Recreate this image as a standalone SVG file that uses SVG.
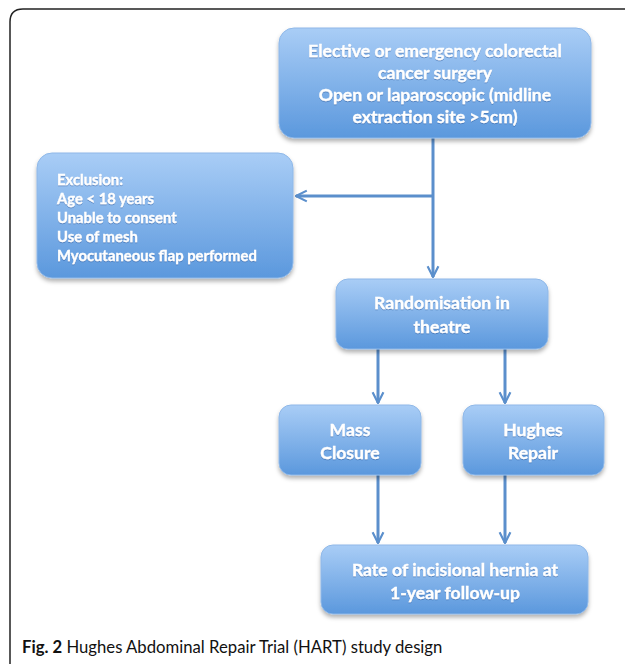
<svg xmlns="http://www.w3.org/2000/svg" width="625" height="666" viewBox="0 0 625 666">
<defs>
<linearGradient id="g" x1="0" y1="0" x2="0" y2="1">
<stop offset="0" stop-color="#a9cdf6"/>
<stop offset="1" stop-color="#5b98dd"/>
</linearGradient>
<filter id="sh" x="-10%" y="-10%" width="120%" height="130%">
<feDropShadow dx="0" dy="3" stdDeviation="2" flood-color="#000" flood-opacity="0.3"/>
</filter>
<filter id="ts" x="-5%" y="-20%" width="110%" height="140%">
<feDropShadow dx="0" dy="1" stdDeviation="0.6" flood-color="#2a5a9a" flood-opacity="0.5"/>
</filter>
<marker id="ah" viewBox="0 0 10 10" refX="9" refY="5" markerWidth="4.5" markerHeight="4.5" orient="auto" markerUnits="strokeWidth">
<path d="M1,1 L9,5 L1,9" fill="none" stroke="#5b8fcc" stroke-width="1.6"/>
</marker>
<style>
.box{fill:url(#g);stroke:#8fb8e8;stroke-width:1;filter:url(#sh)}
.t{font-family:"Lato","Open Sans","Liberation Sans",sans-serif;font-weight:bold;fill:#fff;stroke:#fff;stroke-width:0.35;filter:url(#ts)}
.c{font-size:17.6px;text-anchor:middle}
.l{font-size:14.8px}
.con{fill:none;stroke:#5b8fcc;stroke-width:3;marker-end:url(#ah)}
.cap{font-family:"Lato","Open Sans","Liberation Sans",sans-serif;font-size:16.7px;fill:#111}
</style>
</defs>
<rect width="625" height="666" fill="#fff"/>
<path d="M10,664 V22 Q10,9 23,9 H625" fill="none" stroke="#222" stroke-width="1.5"/>

<g id="connectors">
<line class="con" x1="433" y1="138" x2="433" y2="277"/>
<line class="con" x1="433" y1="196" x2="296" y2="196"/>
<line class="con" x1="378" y1="349" x2="378" y2="403"/>
<line class="con" x1="505" y1="349" x2="505" y2="403"/>
<line class="con" x1="378" y1="475" x2="378" y2="543"/>
<line class="con" x1="505" y1="475" x2="505" y2="543"/>
</g>

<g id="surgery">
<rect class="box" x="279" y="28" width="312" height="110" rx="15"/>
<text class="t c"><tspan x="435" y="57">Elective or emergency colorectal</tspan><tspan x="435" y="79">cancer surgery</tspan><tspan x="435" y="101">Open or laparoscopic (midline</tspan><tspan x="435" y="123">extraction site &gt;5cm)</tspan></text>
</g>

<g id="exclusion">
<rect class="box" x="37" y="153" width="256" height="125" rx="15"/>
<text class="t l"><tspan x="57" y="185">Exclusion:</tspan><tspan x="57" y="204">Age &lt; 18 years</tspan><tspan x="57" y="223">Unable to consent</tspan><tspan x="57" y="242">Use of mesh</tspan><tspan x="57" y="261">Myocutaneous flap performed</tspan></text>
</g>

<g id="randomisation">
<rect class="box" x="336" y="279" width="212" height="70" rx="12"/>
<text class="t c"><tspan x="442" y="309">Randomisation in</tspan><tspan x="442" y="333">theatre</tspan></text>
</g>

<g id="mass">
<rect class="box" x="279" y="405" width="142" height="70" rx="12"/>
<text class="t c"><tspan x="350" y="436">Mass</tspan><tspan x="350" y="459">Closure</tspan></text>
</g>

<g id="hughes">
<rect class="box" x="463" y="405" width="141" height="70" rx="12"/>
<text class="t c"><tspan x="533" y="436">Hughes</tspan><tspan x="533" y="459">Repair</tspan></text>
</g>

<g id="rate">
<rect class="box" x="321" y="545" width="267" height="69" rx="12"/>
<text class="t c"><tspan x="455" y="576">Rate of incisional hernia at</tspan><tspan x="455" y="599">1-year follow-up</tspan></text>
</g>

<text class="cap" x="22" y="653"><tspan font-weight="bold">Fig. 2</tspan> Hughes Abdominal Repair Trial (HART) study design</text>
</svg>
